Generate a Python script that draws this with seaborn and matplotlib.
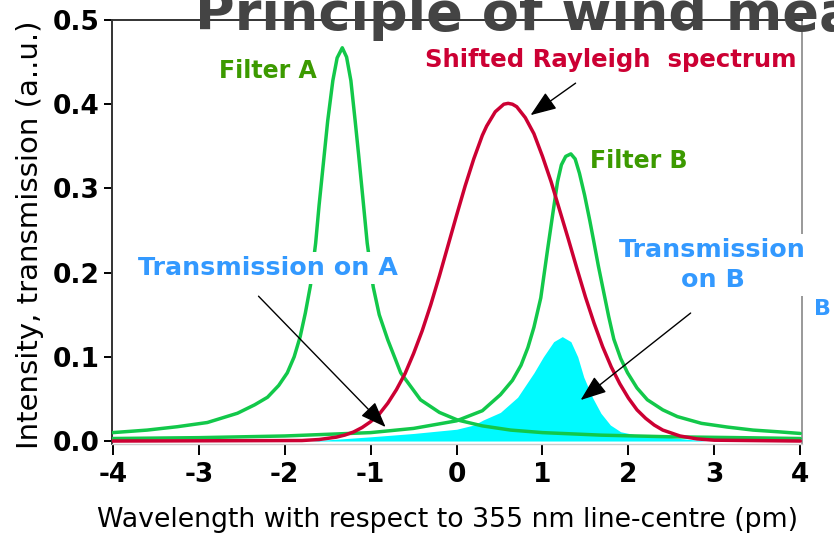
import matplotlib
matplotlib.use("Agg")
import matplotlib.pyplot as plt
import seaborn as sns

# ---- data ----
fa_x = [-4.0, -3.6, -3.25, -2.9, -2.55, -2.35, -2.2, -2.07, -1.97, -1.89, -1.82, -1.76, -1.70, -1.64,
        -1.60, -1.55, -1.50, -1.44, -1.39, -1.33, -1.28, -1.23, -1.18, -1.14, -1.09, -1.04, -0.97,
        -0.90, -0.80, -0.65, -0.42, -0.2, 0.01, 0.3, 0.63, 1.0, 1.68, 2.5, 3.3, 4.0]
fa_y = [0.010, 0.013, 0.017, 0.022, 0.033, 0.043, 0.052, 0.066, 0.081, 0.100, 0.124, 0.152, 0.185,
        0.235, 0.280, 0.330, 0.380, 0.428, 0.455, 0.467, 0.456, 0.428, 0.380, 0.340, 0.288, 0.235,
        0.183, 0.150, 0.120, 0.081, 0.049, 0.034, 0.025, 0.018, 0.013, 0.010, 0.007, 0.005, 0.004,
        0.003]

fb_x = [-4.0, -3.0, -2.0, -1.0, -0.5, 0.0, 0.3, 0.51, 0.65, 0.75, 0.83, 0.9, 0.98, 1.06, 1.12, 1.175,
        1.22, 1.27, 1.33, 1.38, 1.43, 1.49, 1.55, 1.595, 1.65, 1.71, 1.77, 1.83, 1.91, 1.99, 2.1,
        2.22, 2.4, 2.57, 2.85, 3.15, 3.45, 3.74, 4.0]
fb_y = [0.003, 0.004, 0.006, 0.010, 0.015, 0.024, 0.036, 0.055, 0.072, 0.090, 0.111, 0.135, 0.170,
        0.228, 0.270, 0.308, 0.328, 0.338, 0.341, 0.335, 0.318, 0.292, 0.262, 0.238, 0.208, 0.178,
        0.148, 0.121, 0.098, 0.081, 0.063, 0.049, 0.037, 0.029, 0.021, 0.0166, 0.013, 0.011, 0.009]

r_x = [-4.0, -1.8, -1.6, -1.4, -1.3, -1.2, -1.1, -1.0, -0.9, -0.8, -0.7, -0.6, -0.5, -0.4, -0.3,
       -0.2, -0.1, 0.0, 0.1, 0.2, 0.3, 0.35, 0.45, 0.55, 0.6, 0.65, 0.7, 0.8, 0.9, 1.0, 1.1, 1.2,
       1.3, 1.4, 1.5, 1.6, 1.7, 1.8, 1.9, 2.0, 2.1, 2.2, 2.3, 2.4, 2.6, 2.8, 3.0, 4.0]
r_y = [0.0, 0.0006, 0.0018, 0.0046, 0.0071, 0.0107, 0.016, 0.023, 0.032, 0.045, 0.061, 0.080, 0.104,
       0.131, 0.162, 0.196, 0.232, 0.268, 0.303, 0.335, 0.363, 0.374, 0.391, 0.400, 0.401, 0.400,
       0.397, 0.384, 0.365, 0.338, 0.308, 0.274, 0.240, 0.205, 0.171, 0.140, 0.112, 0.088, 0.068,
       0.051, 0.037, 0.027, 0.019, 0.013, 0.006, 0.0025, 0.001, 0.0]

t_x = [-1.7, -1.0, -0.5, 0.0, 0.2, 0.31, 0.51, 0.71, 0.90, 1.01, 1.13, 1.23, 1.33, 1.41, 1.48, 1.58,
       1.68, 1.79, 1.91, 2.1, 2.5, 2.9]
t_y = [0.0, 0.005, 0.009, 0.014, 0.019, 0.025, 0.034, 0.052, 0.081, 0.100, 0.118, 0.124, 0.118,
       0.100, 0.076, 0.052, 0.033, 0.019, 0.011, 0.007, 0.004, 0.0]

x_ticks = [-4, -3, -2, -1, 0, 1, 2, 3, 4]
x_ticklabels = ["-4", "-3", "-2", "-1", "0", "1", "2", "3", "4"]
y_ticks = [0.0, 0.1, 0.2, 0.3, 0.4, 0.5]
y_ticklabels = ["0.0", "0.1", "0.2", "0.3", "0.4", "0.5"]

# ---- style ----
sns.set_theme(style="white")
plt.rcParams["font.family"] = ["DejaVu Sans"]

GREEN = "#12C84A"
RED = "#CC0033"
CYAN = "#00FAFF"
TXT_GREEN = "#3C9A00"
TXT_BLUE = "#3399FF"

W, H = 834, 536
fig = plt.figure(figsize=(W / 100, H / 100), dpi=100)
ax_left, ax_right, ax_top, ax_bottom = 112, 802, 20, 444.4
ax = fig.add_axes([ax_left / W, 1 - ax_bottom / H, (ax_right - ax_left) / W, (ax_bottom - ax_top) / H])

ax.fill_between(t_x, 0, t_y, color=CYAN, linewidth=0, zorder=1)
sns.lineplot(x=fb_x, y=fb_y, ax=ax, color=GREEN, linewidth=2.5, zorder=3)
sns.lineplot(x=fa_x, y=fa_y, ax=ax, color=GREEN, linewidth=2.5, zorder=3)
sns.lineplot(x=r_x, y=r_y, ax=ax, color=RED, linewidth=2.5, zorder=4)
for ln in ax.get_lines():
    ln.set_solid_joinstyle("round")

ax.set_xlim(-4.01, 4.02)
ax.set_ylim(-0.004, 0.5)
ax.set_xticks(x_ticks)
ax.set_xticklabels(x_ticklabels)
ax.set_yticks(y_ticks)
ax.set_yticklabels(y_ticklabels)
ax.tick_params(axis="both", which="major", labelsize=19, colors="black", direction="out",
               width=1.4, bottom=True, left=True)
ax.tick_params(axis="x", length=8, pad=5)
ax.tick_params(axis="y", length=6, pad=3)
for lab in ax.get_xticklabels() + ax.get_yticklabels():
    lab.set_fontweight("bold")

ax.spines["left"].set_color("#333333")
ax.spines["left"].set_linewidth(1.4)
ax.spines["top"].set_color("#333333")
ax.spines["top"].set_linewidth(1.4)
ax.spines["right"].set_color("#999999")
ax.spines["right"].set_linewidth(1.4)
ax.spines["bottom"].set_color("#cccccc")
ax.spines["bottom"].set_linewidth(1.0)

# axis labels
fig.text(448 / W, 1 - 520 / H, "Wavelength with respect to 355 nm line-centre (pm)",
         fontsize=19.3, ha="center", va="center", color="black")
fig.text(30 / W, 1 - 235 / H, "Intensity, transmission (a..u.)", rotation=90,
         fontsize=21, ha="center", va="center", color="black")

# title, clipped by the top edge as in the reference
fig.text(195 / W, 1 - 30 / H, "Principle of wind measurement", fontsize=39, fontweight="bold",
         color="#444444", ha="left", va="baseline", zorder=10)

# annotations
ax.text(-2.2, 0.440, "Filter A", color=TXT_GREEN, fontsize=17, fontweight="bold",
        ha="center", va="center", zorder=6)
ax.text(1.8, 0.452, "Shifted Rayleigh  spectrum", color=RED, fontsize=17.6, fontweight="bold",
        ha="center", va="center", zorder=6)
ax.text(2.12, 0.333, "Filter B", color=TXT_GREEN, fontsize=17, fontweight="bold",
        ha="center", va="center", zorder=6)
ax.text(-2.2, 0.205, "Transmission on A", color=TXT_BLUE, fontsize=18.3, fontweight="bold",
        ha="center", va="center", zorder=6,
        bbox=dict(facecolor="white", edgecolor="none", pad=3))
ax.text(2.98, 0.209, "Transmission\non B", color=TXT_BLUE, fontsize=18.3,
        fontweight="bold", ha="center", va="center", linespacing=1.3, zorder=6,
        bbox=dict(facecolor="white", edgecolor="none", pad=3))
fig.text(814 / W, 1 - 309 / H, "B", color=TXT_BLUE, fontsize=16, fontweight="bold",
         ha="left", va="center")

arrow = dict(arrowstyle="-|>,head_length=1.0,head_width=0.38", color="black", lw=1.0,
             mutation_scale=16, shrinkA=0, shrinkB=0)
ax.annotate("", xy=(0.861, 0.387), xytext=(1.385, 0.425), arrowprops=arrow, zorder=7)
ax.annotate("", xy=(-0.826, 0.0166), xytext=(-2.305, 0.172), arrowprops=arrow, zorder=7)
ax.annotate("", xy=(1.444, 0.0487), xytext=(2.724, 0.152), arrowprops=arrow, zorder=7)

fig.savefig("out.png", dpi=100)
